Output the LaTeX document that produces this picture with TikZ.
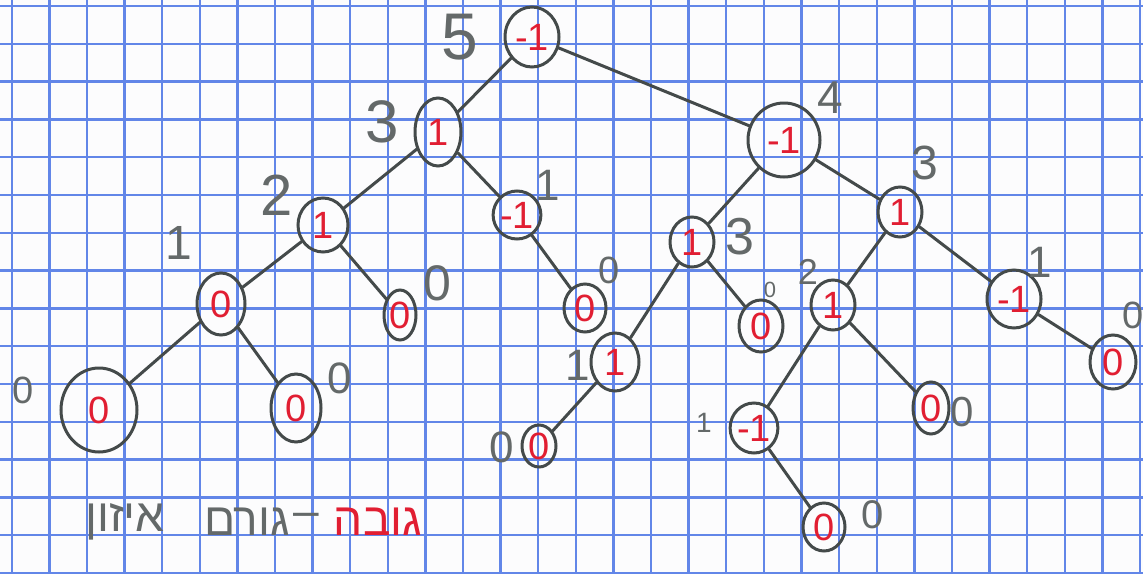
\documentclass[tikz,border=0pt]{standalone}
\usepackage{fontspec}
\setmainfont{Liberation Sans}
\newfontfamily\hebfont[Script=Hebrew]{Liberation Sans}
\TeXXeTstate=1
\usetikzlibrary{shapes.geometric}

\definecolor{gridblue}{RGB}{98,134,232}
\definecolor{pencil}{RGB}{68,74,74}
\definecolor{pencillight}{RGB}{100,105,105}
\definecolor{inkred}{RGB}{225,30,50}
\definecolor{paper}{RGB}{252,252,253}

\tikzset{
  avl/.style={ellipse, draw=pencil, line width=3pt, inner sep=0pt,
    text=inkred, font=\fontsize{38}{38}\selectfont},
  edge/.style={draw=pencil, line width=3pt, line cap=round},
  ht/.style={text=pencillight, inner sep=0pt, font=\fontsize{#1}{#1}\selectfont},
  word/.style={inner sep=0pt, font=\hebfont\fontsize{46}{46}\selectfont},
}

\begin{document}
\begin{tikzpicture}[x=1pt, y=-1pt]
\useasboundingbox (0,0) rectangle (1143,573);
\fill[paper] (0,0) rectangle (1143,573);

% squared paper
\begin{scope}
  \clip (0,0) rectangle (1143,573);
  \foreach \k in {0,...,30}
    \draw[gridblue, line width=2.4pt] ({11.7+37.61*\k},0) -- ({11.7+37.61*\k},573);
  \foreach \k in {0,...,15}
    \draw[gridblue, line width=2.4pt] (0,{6+37.8*\k}) -- (1143,{6+37.8*\k});
\end{scope}

% tree nodes: balance factor inside
\node[avl, minimum width=54pt, minimum height=60pt] (r) at (532,37) {-1};
\node[avl, minimum width=46pt, minimum height=68pt] (a) at (438,132) {1};
\node[avl, minimum width=72pt, minimum height=74pt] (b) at (784,140) {-1};
\node[avl, minimum width=50pt, minimum height=54pt] (c) at (323,225) {1};
\node[avl, minimum width=48pt, minimum height=62pt] (d) at (221,304) {0};
\node[avl, minimum width=76pt, minimum height=84pt] (e) at (99,410) {0};
\node[avl, minimum width=50pt, minimum height=68pt] (f) at (296,408) {0};
\node[avl, minimum width=32pt, minimum height=50pt] (g) at (400,315) {0};
\node[avl, minimum width=44pt, minimum height=48pt] (h) at (517,215) {-1};
\node[avl, minimum width=42pt, minimum height=48pt] (i) at (585,308) {0};
\node[avl, minimum width=44pt, minimum height=50pt] (j) at (692,242) {1};
\node[avl, minimum width=48pt, minimum height=58pt] (k) at (615,362) {1};
\node[avl, minimum width=34pt, minimum height=42pt] (l) at (539,446) {0};
\node[avl, minimum width=44pt, minimum height=52pt] (m) at (761,326) {0};
\node[avl, minimum width=44pt, minimum height=50pt] (n) at (900,212) {1};
\node[avl, minimum width=44pt, minimum height=50pt] (o) at (833,305) {1};
\node[avl, minimum width=38pt, minimum height=50pt] (p) at (754,428) {-1};
\node[avl, minimum width=42pt, minimum height=48pt] (q) at (824,527) {0};
\node[avl, minimum width=36pt, minimum height=52pt] (rr) at (931,408) {0};
\node[avl, minimum width=54pt, minimum height=58pt] (s) at (1014,299) {-1};
\node[avl, minimum width=46pt, minimum height=54pt] (t) at (1113,362) {0};

% branches
\draw[edge] (r) -- (a);
\draw[edge] (r) -- (b);
\draw[edge] (a) -- (c);
\draw[edge] (a) -- (h);
\draw[edge] (c) -- (d);
\draw[edge] (c) -- (g);
\draw[edge] (d) -- (e);
\draw[edge] (d) -- (f);
\draw[edge] (h) -- (i);
\draw[edge] (b) -- (j);
\draw[edge] (b) -- (n);
\draw[edge] (j) -- (k);
\draw[edge] (j) -- (m);
\draw[edge] (k) -- (l);
\draw[edge] (n) -- (o);
\draw[edge] (n) -- (s);
\draw[edge] (o) -- (p);
\draw[edge] (o) -- (rr);
\draw[edge] (p) -- (q);
\draw[edge] (s) -- (t);

% heights beside the nodes
\node[ht=66] (hr) at (460,37) {5};
\node[ht=60] (ha) at (382,122) {3};
\node[ht=46] (hb) at (830,98) {4};
\node[ht=58] (hc) at (277,195) {2};
\node[ht=48] (hd) at (179,243) {1};
\node[ht=38] (he) at (23,390) {0};
\node[ht=44] (hf) at (340,378) {0};
\node[ht=50] (hg) at (437,283) {0};
\node[ht=44] (hh) at (548,185) {1};
\node[ht=38] (hi) at (609,270) {0};
\node[ht=52] (hj) at (740,237) {3};
\node[ht=44] (hk) at (578,365) {1};
\node[ht=44] (hl) at (502,447) {0};
\node[ht=22] (hm) at (770,290) {0};
\node[ht=48] (hn) at (925,163) {3};
\node[ht=36] (ho) at (808,272) {2};
\node[ht=28] (hp) at (704,423) {1};
\node[ht=40] (hq) at (873,515) {0};
\node[ht=42] (hrr) at (962,412) {0};
\node[ht=44] (hs) at (1040,262) {1};
\node[ht=38] (ht) at (1133,315) {0};

% legend
\node[word, text=inkred] (lg1) at (378,522) {\beginR גובה\endR};
\node[word, text=pencillight] (lg2) at (306,520) {–};
\node[word, text=pencillight] (lg3) at (247,522) {\beginR גורם\endR};
\node[word, text=pencillight] (lg4) at (125,522) {\beginR איזון\endR};
\end{tikzpicture}
\end{document}
